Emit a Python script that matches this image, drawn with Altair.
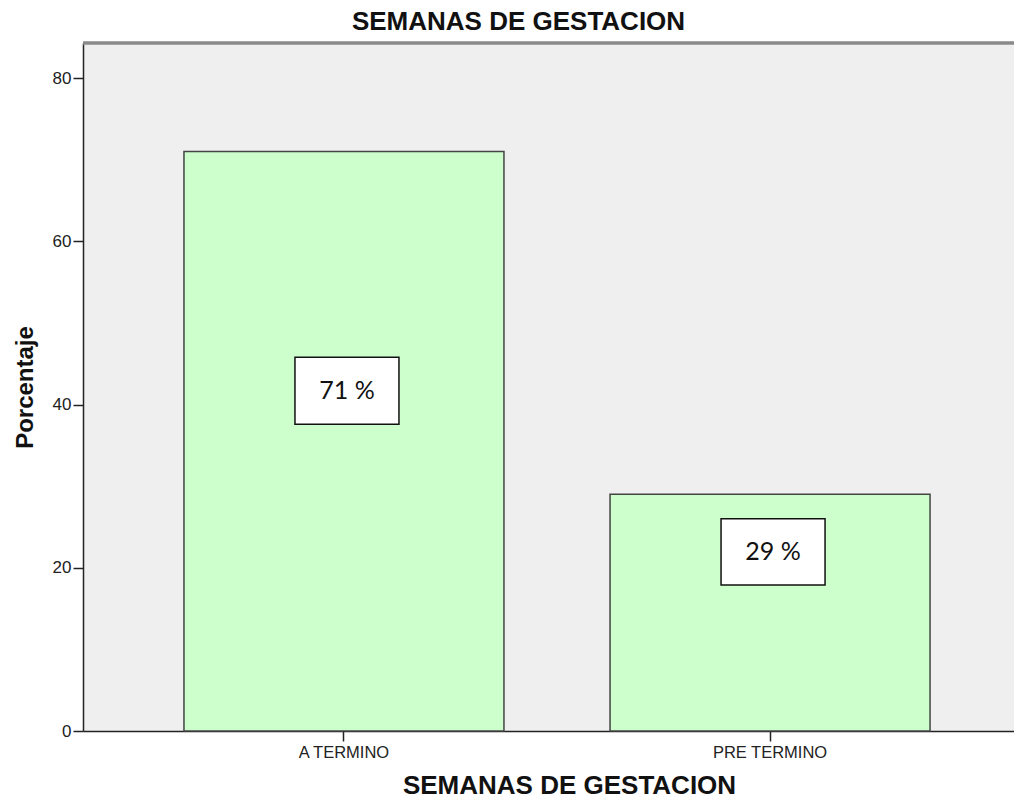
import altair as alt
import pandas as pd

categories = ["A TERMINO", "PRE TERMINO"]
values = [71, 29]
labels = ["71 %", "29 %"]
box_top = [45.8, 26.0]
box_bottom = [37.6, 17.9]
label_pos = [41.7, 21.95]

df = pd.DataFrame({
    "cat": categories,
    "val": values,
    "label": labels,
    "btop": box_top,
    "bbot": box_bottom,
    "lpos": label_pos,
})

W = 931
H = 688
FONT = "Liberation Sans"

xscale = alt.Scale(domain=categories, paddingInner=0.249, paddingOuter=0.217, align=0.546)
yscale = alt.Scale(domain=[0, 84.3], nice=False)

xenc = alt.X("cat:N", scale=xscale, sort=categories,
             axis=alt.Axis(title="SEMANAS DE GESTACION", labelAngle=0, tickSize=10,
                           labelFontSize=16.5, labelFont=FONT, labelColor="#222",
                           labelPadding=3, titleFont=FONT, titleFontSize=26,
                           titleFontWeight="bold", titleColor="#111",
                           titleX=486, titleY=62, titleBaseline="alphabetic", titleAlign="center",
                           domainColor="#222", domainWidth=1.5, tickColor="#222", tickWidth=1.5))

bars = alt.Chart(df).mark_bar(fill="#CCFFCC", stroke="#444", strokeWidth=1.5).encode(
    x=xenc,
    y=alt.Y("val:Q", scale=yscale,
            axis=alt.Axis(title="Porcentaje", values=[0, 20, 40, 60, 80], tickSize=10,
                          labelFontSize=17, labelFont=FONT, labelColor="#222",
                          labelPadding=2, titleFont=FONT, titleFontSize=24,
                          titleFontWeight="bold", titleColor="#111",
                          titleX=-51, titleY=H / 2, titleBaseline="alphabetic",
                          titleAlign="center", titleAngle=270,
                          domainColor="#222", domainWidth=1.5, tickColor="#222",
                          tickWidth=1.5, grid=False)),
)

boxes = alt.Chart(df).mark_bar(fill="white", stroke="#111", strokeWidth=1.5, width=104, xOffset=3).encode(
    x=alt.X("cat:N", scale=xscale, sort=categories),
    y=alt.Y("btop:Q", scale=yscale),
    y2="bbot:Q",
)

texts = alt.Chart(df).mark_text(font="Lato", fontSize=25, color="#111", dx=3, baseline="middle").encode(
    x=alt.X("cat:N", scale=xscale, sort=categories),
    y=alt.Y("lpos:Q", scale=yscale),
    text="label:N",
)

topline = alt.Chart(df).mark_rule(color="#8a8a8a", strokeWidth=3).encode(
    x=alt.value(0), x2=alt.value(W), y=alt.value(0)
)

chart = alt.layer(bars, boxes, texts, topline).properties(
    width=W, height=H,
    background="white",
    title=alt.TitleParams("SEMANAS DE GESTACION", font=FONT, fontSize=26,
                          fontWeight="bold", color="#111", anchor="middle", frame="group",
                          offset=7, dx=-30),
    autosize=alt.AutoSizeParams(type="none"),
    padding={"left": 75, "top": 35, "right": 0, "bottom": 63},
).configure_view(fill="#EFEFEF", stroke=None)

chart.save("out.html", embed_options={"renderer": "svg", "actions": False})
